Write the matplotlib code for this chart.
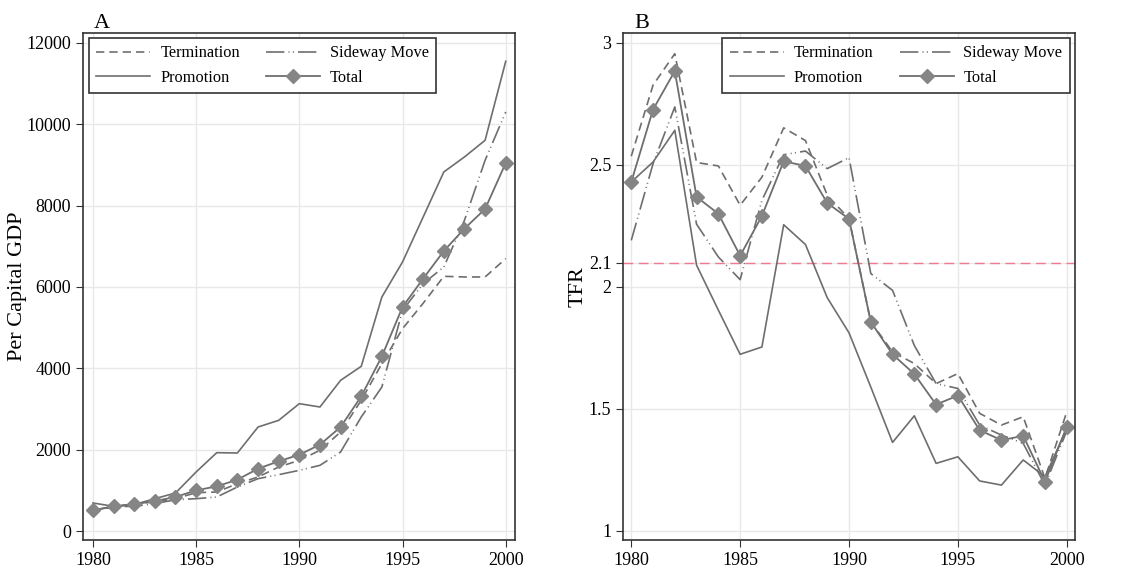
import numpy as np
import matplotlib
matplotlib.use("Agg")
import matplotlib.pyplot as plt

plt.rcParams['font.family'] = ['Liberation Serif', 'DejaVu Serif']

years = np.arange(1980, 2001)

# Panel A: per capita GDP
gdp_termination = [510, 590, 672, 713, 795, 943, 959, 1164, 1328, 1574, 1738, 1984, 2434, 3213, 4115,
                   4975, 5600, 6262, 6246, 6246, 6697]
gdp_promotion = [689, 607, 650, 795, 934, 1451, 1926, 1918, 2557, 2721, 3131, 3049, 3705, 4049, 5754,
                 6615, 7721, 8828, 9197, 9607, 11549]
gdp_sideway = [508, 600, 607, 672, 770, 795, 836, 1082, 1287, 1385, 1492, 1615, 1943, 2803, 3541,
               5426, 6082, 6492, 7639, 9115, 10303]
gdp_total = [510, 607, 656, 738, 836, 1000, 1098, 1262, 1533, 1713, 1877, 2123, 2557, 3311, 4295,
             5508, 6205, 6885, 7434, 7918, 9049]

# Panel B: TFR
tfr_termination = [2.536, 2.827, 2.956, 2.51, 2.496, 2.335, 2.45, 2.652, 2.60, 2.376, 2.28,
                   1.857, 1.734, 1.686, 1.604, 1.645, 1.482, 1.434, 1.468, 1.216, 1.488]
tfr_promotion = [2.43, 2.512, 2.642, 2.089, 1.905, 1.724, 1.754, 2.255, 2.174, 1.956, 1.812,
                 1.59, 1.363, 1.472, 1.277, 1.304, 1.205, 1.188, 1.291, 1.222, 1.42]
tfr_sideway = [2.191, 2.505, 2.738, 2.257, 2.123, 2.03, 2.355, 2.542, 2.557, 2.485, 2.53,
               2.055, 1.986, 1.76, 1.604, 1.584, 1.434, 1.393, 1.359, 1.188, 1.41]
tfr_total = [2.43, 2.727, 2.885, 2.369, 2.30, 2.128, 2.291, 2.515, 2.496, 2.344, 2.279,
             1.857, 1.724, 1.643, 1.518, 1.555, 1.413, 1.372, 1.39, 1.202, 1.427]

line_col = '#6e6e6e'
mark_col = '#858585'
sideway_dash = (0, (11, 2.5, 0.6, 2, 0.6, 2.5))

fig = plt.figure(figsize=(11.29, 5.68), dpi=100)
axA = fig.add_axes([0.0735, 0.0493, 0.3825, 0.8927])
axB = fig.add_axes([0.552, 0.0493, 0.400, 0.8927])


def draw(ax, term, promo, side, total):
    ax.plot(years, term, color=line_col, lw=1.2, ls=(0, (5, 3)), label='Termination')
    ax.plot(years, promo, color=line_col, lw=1.2, ls='-', label='Promotion')
    ax.plot(years, side, color=line_col, lw=1.2, ls=sideway_dash, label='Sideway Move')
    ax.plot(years, total, color=line_col, lw=1.3, marker='D', ms=6.8,
            mfc=mark_col, mec=mark_col, label='Total')
    ax.grid(True, color='#e8e8e8', lw=1)
    ax.set_axisbelow(True)
    ax.set_xticks([1980, 1985, 1990, 1995, 2000])
    ax.tick_params(labelsize=13, direction='out', length=5, color='#333333')
    for s in ax.spines.values():
        s.set_color('#333333')
        s.set_linewidth(1.2)
    leg = ax.legend(ncol=2, fontsize=11.8, borderaxespad=0,
                    fancybox=False, edgecolor='#333333', framealpha=1,
                    handlelength=3.3, handletextpad=0.6, columnspacing=1.6,
                    borderpad=0.45, labelspacing=0.5)
    leg.get_frame().set_linewidth(1.2)
    return leg


legA = draw(axA, gdp_termination, gdp_promotion, gdp_sideway, gdp_total)
axA.set_xlim(1979.52, 2000.44)
axA.set_ylim(-221, 12246)
axA.set_yticks([0, 2000, 4000, 6000, 8000, 10000, 12000])
axA.set_ylabel('Per Capital GDP', fontsize=16)
axA.yaxis.set_label_coords(-0.13, 0.5)
axA.set_title('A', loc='left', fontsize=16, pad=2, x=0.025)
legA.set_loc('upper left')
legA.set_bbox_to_anchor((0.014, 0.99))

legB = draw(axB, tfr_termination, tfr_promotion, tfr_sideway, tfr_total)
axB.axhline(2.1, color='#f07a90', lw=1, ls=(0, (7, 4)), zorder=1)
axB.set_xlim(1979.63, 2000.37)
axB.set_ylim(0.963, 3.041)
axB.set_yticks([1, 1.5, 2, 2.1, 2.5, 3])
axB.set_yticklabels(['1', '1.5', '2', '2.1', '2.5', '3'])
axB.set_ylabel('TFR', fontsize=16)
axB.yaxis.set_label_coords(-0.08, 0.5)
axB.set_title('B', loc='left', fontsize=16, pad=2, x=0.025)
legB.set_loc('upper right')
legB.set_bbox_to_anchor((0.989, 0.99))

fig.savefig('out.png', dpi=100)
